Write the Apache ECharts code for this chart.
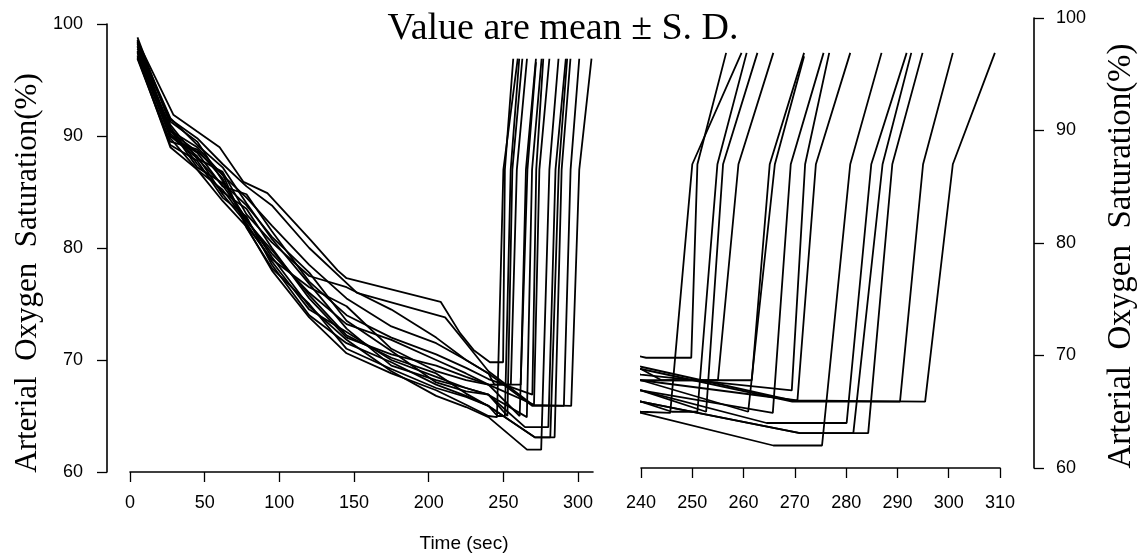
<!DOCTYPE html>
<html><head><meta charset="utf-8">
<script src="https://cdn.jsdelivr.net/npm/echarts@6/dist/echarts.min.js"></script>
<style>html,body{margin:0;padding:0;background:#fff;}#c{width:1142px;height:559px;}</style>
</head><body><div id="c"></div>
<script>
// ---- text ----
const titleText = 'Value are mean \u00b1 S. D.';
const yNameLeft = 'Arterial  Oxygen  Saturation(%)';
const yNameRight = 'Arterial  Oxygen  Saturation(%)';
const xName = 'Time (sec)';
// ---- axes: [min, max, interval] ----
const leftX = [0, 310, 50];
const rightX = [240, 310, 10];
const yAxisRange = [60, 100, 10];
// ---- subjects: [time (sec), SaO2 (%)] ----
const s01 = [[5,98.5],[29,91.9],[45,90.4],[60,89.0],[76,85.9],[92,84.9],[121,80.7],[139,78.0],[145,77.3],[208,75.2],[221,72.4],[230,70.9],[241,69.8],[249.8,69.8],[251,87.0],[256.6,96.9]];
const s02 = [[5,97.1],[27,89.0],[45,87.0],[62,84.2],[78,81.9],[95,78.0],[120,73.8],[145,70.6],[175,68.8],[205,67.3],[225,66.0],[240,65.0],[245.7,64.9],[250.0,87.0],[259.6,96.9]];
const s03 = [[5,96.9],[27,89.2],[45,87.8],[62,84.5],[78,82.8],[95,78.5],[120,74.0],[145,71.5],[175,69.8],[205,67.8],[225,66.8],[240,65.9],[246,65.0],[251,65.0],[254.9,87.0],[260.6,96.9]];
const s04 = [[5,98.6],[27,90.2],[45,88.2],[62,84.8],[78,82.2],[95,78.8],[120,74.5],[145,72.5],[175,70.0],[205,68.5],[225,67.5],[240,66.9],[252.7,65.0],[256.0,87.0],[262.7,96.9]];
const s05 = [[5,98.8],[27,91.0],[45,88.0],[62,86.8],[78,83.0],[95,80.5],[120,77.5],[145,76.5],[175,74.5],[205,72.0],[225,70.0],[240,68.8],[244,67.8],[255,67.8],[259,87.0],[265.8,96.9]];
const s06 = [[5,98.2],[27,91.3],[45,89.5],[62,86.0],[78,82.5],[95,79.5],[120,76.0],[145,73.2],[175,71.8],[205,70.0],[225,68.8],[240,67.8],[261.6,67.8],[265.1,87.0],[271.8,96.9]];
const s07 = [[5,97.8],[27,90.8],[45,87.5],[62,85.0],[78,83.5],[95,80.0],[120,75.5],[145,72.0],[175,70.5],[205,69.5],[225,68.5],[240,67.8],[260.9,65.0],[266.1,87.0],[271.8,96.6]];
const s08 = [[5,97.4],[27,90.6],[45,87.2],[62,85.8],[78,83.8],[95,81.0],[120,77.8],[145,73.5],[175,70.8],[205,68.0],[225,67.2],[240,66.9],[265.7,64.9],[269.2,87.0],[275.6,96.9]];
const s09 = [[5,97.2],[27,90.0],[45,88.5],[62,85.5],[78,84.8],[95,81.5],[120,77.0],[145,74.0],[175,72.0],[205,70.5],[225,69.3],[240,68.3],[269.4,66.9],[272.0,87.0],[276.7,96.9]];
const s10 = [[5,97.0],[27,89.5],[45,88.8],[62,86.2],[78,82.0],[95,79.0],[120,76.5],[145,74.8],[175,71.0],[205,69.0],[225,68.2],[240,67.8],[270.5,66.0],[274.1,87.0],[280.8,96.9]];
const s11 = [[5,98.4],[27,90.0],[45,88.0],[62,85.6],[78,82.6],[95,79.2],[120,74.8],[145,71.8],[175,69.0],[205,66.8],[225,65.8],[240,64.9],[265.8,62.0],[275.3,62.0],[280.8,87.0],[286.9,96.9]];
const s12 = [[5,98.3],[27,91.6],[45,89.2],[62,87.2],[78,84.0],[95,80.8],[120,76.8],[145,72.8],[175,69.5],[205,68.2],[225,67.5],[240,66.9],[264.5,64.0],[280.1,64.0],[284.9,87.0],[291.8,96.9]];
const s13 = [[5,98.0],[27,90.4],[45,88.6],[62,86.6],[78,81.8],[95,78.2],[120,75.0],[145,71.0],[175,69.2],[205,67.5],[225,66.7],[240,65.9],[271,63.1],[281.4,63.1],[287.1,87.0],[292.7,96.9]];
const s14 = [[5,97.6],[27,89.8],[45,87.0],[62,85.2],[78,82.4],[95,79.8],[120,75.8],[145,72.2],[175,70.2],[205,68.8],[225,67.0],[240,65.9],[271,63.1],[284.3,63.1],[289.0,87.0],[294.9,96.9]];
const s15 = [[5,97.5],[27,90.5],[45,89.0],[62,86.5],[78,84.5],[95,82.0],[120,78.5],[145,75.5],[175,73.0],[205,71.5],[225,70.0],[240,68.8],[269.5,65.9],[290.5,65.9],[295.0,87.0],[300.8,96.9]];
const s16 = [[5,98.0],[27,91.5],[45,89.8],[62,87.5],[78,85.5],[95,83.8],[120,80.0],[152,76.0],[211,73.8],[225,71.5],[240,69.0],[269.5,66.0],[295.4,65.9],[300.8,87.0],[309.0,96.9]];
const subjects = [s01,s02,s03,s04,s05,s06,s07,s08,s09,s10,s11,s12,s13,s14,s15,s16];

const SANS = '"Liberation Sans", Arial, sans-serif';
const SERIF = '"Liberation Serif", "Times New Roman", serif';
const black = '#000';
function xAx(grid, r, margin) {
  return {type:'value', gridIndex:grid, min:r[0], max:r[1], interval:r[2],
    axisLine:{show:true, onZero:false, lineStyle:{color:black, width:1.6}},
    axisTick:{show:true, inside:false, length:10, lineStyle:{color:black, width:1.3}},
    axisLabel:{color:black, fontFamily:SANS, fontSize:18, margin:margin},
    splitLine:{show:false}};
}
function yAx(grid, pos, off, margin) {
  return {type:'value', gridIndex:grid, min:yAxisRange[0], max:yAxisRange[1], interval:yAxisRange[2],
    position:pos, offset:off,
    axisLine:{show:true, onZero:false, lineStyle:{color:black, width:1.6}},
    axisTick:{show:true, inside:false, length:10, lineStyle:{color:black, width:1.3}},
    axisLabel:{color:black, fontFamily:SANS, fontSize:18, margin:margin},
    splitLine:{show:false}};
}
const series = [];
subjects.forEach(function(d, i){
  [0,1].forEach(function(g){
    series.push({type:'line', name:'S'+(i+1), xAxisIndex:g, yAxisIndex:g, data:d,
      showSymbol:false, symbol:'none', clip:true, silent:true,
      lineStyle:{color:black, width:1.8}});
  });
});
const chart = echarts.init(document.getElementById('c'));
chart.setOption({
  animation:false, backgroundColor:'#fff',
  grid:[{left:130, top:24, width:463, height:448}, {left:641, top:18, width:359, height:450}],
  xAxis:[xAx(0, leftX, 22), xAx(1, rightX, 26)],
  yAxis:[yAx(0, 'left', 23, 24), yAx(1, 'right', 34, 22)],
  series: series,
  graphic:[
    {type:'text', x:563, y:29, style:{text:titleText, font:'38px '+SERIF, fill:black, align:'center', verticalAlign:'middle'}},
    {type:'text', x:28, y:273, rotation:Math.PI/2, style:{text:yNameLeft, font:'31px '+SERIF, fill:black, align:'center', verticalAlign:'middle'}},
    {type:'text', x:1121, y:256, rotation:Math.PI/2, style:{text:yNameRight, font:'33px '+SERIF, fill:black, align:'center', verticalAlign:'middle'}},
    {type:'text', x:464, y:544, style:{text:xName, font:'19px '+SANS, fill:black, align:'center', verticalAlign:'middle'}}
  ]
});
</script></body></html>
